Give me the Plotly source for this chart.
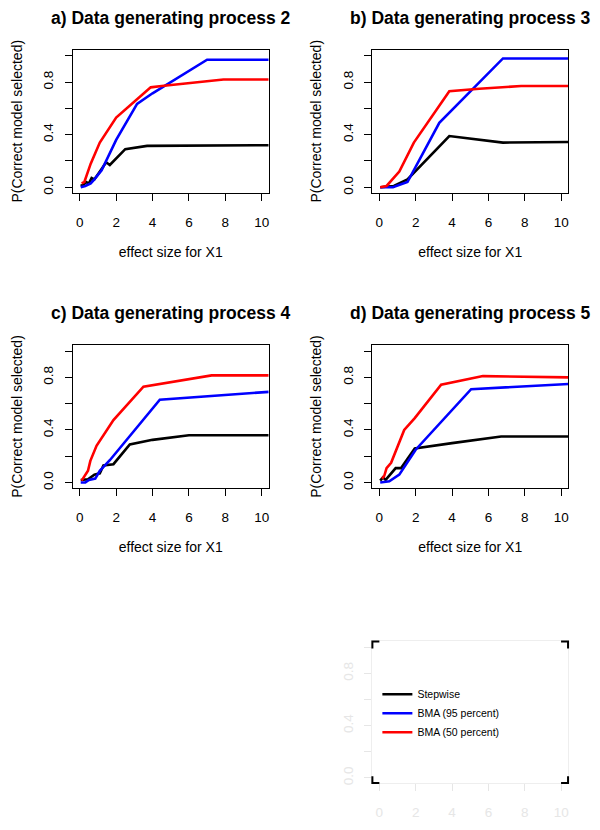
import plotly.graph_objects as go

# ---------------- data ----------------
series_names = ["Stepwise", "BMA (95 percent)", "BMA (50 percent)"]
series_colors = ["#000000", "#0000ff", "#ff0000"]

panel_titles = ["a) Data generating process 2", "b) Data generating process 3",
                "c) Data generating process 4", "d) Data generating process 5"]

# Panel a
a_step_x = [0.05, 0.2, 0.35, 0.5, 0.65, 0.8, 1.0, 1.2, 1.45, 1.65, 2.5, 3.7, 5.0, 7.0, 10.4]
a_step_y = [0.01, 0.02, 0.04, 0.03, 0.07, 0.06, 0.10, 0.14, 0.19, 0.17, 0.29, 0.315, 0.315, 0.315, 0.32]
a_b95_x = [0.05, 0.3, 0.6, 0.8, 1.2, 2.0, 3.15, 4.0, 7.0, 10.4]
a_b95_y = [0.0, 0.01, 0.03, 0.06, 0.13, 0.36, 0.635, 0.715, 0.97, 0.97]
a_b50_x = [0.1, 0.25, 0.6, 1.1, 2.0, 3.9, 4.5, 6.0, 7.9, 10.4]
a_b50_y = [0.03, 0.04, 0.18, 0.34, 0.53, 0.76, 0.77, 0.79, 0.82, 0.82]

# Panel b
b_step_x = [0.05, 0.8, 1.55, 3.85, 6.8, 10.4]
b_step_y = [0.0, 0.01, 0.06, 0.39, 0.34, 0.345]
b_b95_x = [0.05, 0.75, 1.55, 3.3, 6.8, 10.4]
b_b95_y = [0.0, 0.0, 0.04, 0.49, 0.98, 0.98]
b_b50_x = [0.05, 0.4, 1.1, 1.9, 3.85, 5.5, 7.8, 10.4]
b_b50_y = [0.0, 0.01, 0.12, 0.34, 0.73, 0.75, 0.77, 0.77]

# Panel c
c_step_x = [0.05, 0.45, 0.8, 1.1, 1.3, 1.85, 2.75, 4.0, 6.0, 10.4]
c_step_y = [0.02, 0.025, 0.06, 0.07, 0.13, 0.14, 0.29, 0.325, 0.36, 0.36]
c_b95_x = [0.05, 0.3, 0.5, 0.85, 1.1, 1.65, 4.4, 10.4]
c_b95_y = [0.0, 0.0, 0.02, 0.03, 0.09, 0.17, 0.63, 0.69]
c_b50_x = [0.1, 0.27, 0.45, 0.58, 0.92, 1.85, 3.5, 7.25, 10.4]
c_b50_y = [0.015, 0.05, 0.09, 0.165, 0.28, 0.475, 0.73, 0.815, 0.815]

# Panel d
d_step_x = [0.05, 0.2, 0.35, 0.55, 0.9, 1.2, 1.95, 4.0, 6.7, 10.4]
d_step_y = [0.015, 0.04, 0.02, 0.05, 0.11, 0.11, 0.26, 0.30, 0.35, 0.35]
d_b95_x = [0.05, 0.55, 1.1, 2.0, 5.05, 10.4]
d_b95_y = [0.0, 0.01, 0.06, 0.25, 0.71, 0.75]
d_b50_x = [0.15, 0.27, 0.4, 0.65, 1.37, 1.95, 3.4, 5.7, 10.4]
d_b50_y = [0.03, 0.05, 0.11, 0.15, 0.40, 0.49, 0.745, 0.81, 0.80]

panels = [
    [(a_step_x, a_step_y), (a_b95_x, a_b95_y), (a_b50_x, a_b50_y)],
    [(b_step_x, b_step_y), (b_b95_x, b_b95_y), (b_b50_x, b_b50_y)],
    [(c_step_x, c_step_y), (c_b95_x, c_b95_y), (c_b50_x, c_b50_y)],
    [(d_step_x, d_step_y), (d_b95_x, d_b95_y), (d_b50_x, d_b50_y)],
]

x_tickvals = [0, 2, 4, 6, 8, 10]
x_ticktext = ["0", "2", "4", "6", "8", "10"]
y_tickvals = [0.0, 0.2, 0.4, 0.6, 0.8, 1.0]
y_ticktext = ["0.0", "", "0.4", "", "0.8", ""]
x_label = "effect size for X1"
y_label = "P(Correct model selected)"

# ---------------- layout geometry ----------------
# the page body adds an 8px margin, so the figure is drawn 8px smaller
OFF = 8
W, H = 600 - OFF, 830 - OFF
FONT = "Liberation Sans, Arial, Helvetica, sans-serif"
col_px = [(73, 269), (373, 569)]
row_px = [(50, 193), (346, 489), (643, 785)]
xr = [-0.38, 10.38]
yr = [-0.04, 1.045]


def px_x(p):
    return (p - OFF) / W


def px_y(p):
    return 1 - (p - OFF) / H


def xd(c):
    return [px_x(col_px[c][0]), px_x(col_px[c][1])]


def yd(r):
    return [px_y(row_px[r][1]), px_y(row_px[r][0])]


fig = go.Figure()

cells = [(0, 0), (0, 1), (1, 0), (1, 1)]
layout = {}
annotations = []
for i, (r, c) in enumerate(cells):
    n = i + 1
    xa = "x" if n == 1 else f"x{n}"
    ya = "y" if n == 1 else f"y{n}"
    for s, (xs, ys) in enumerate(panels[i]):
        fig.add_trace(go.Scatter(
            x=xs, y=ys, mode="lines", xaxis=xa, yaxis=ya,
            line=dict(color=series_colors[s], width=2.6),
            showlegend=False, hoverinfo="skip"))
    axis_common = dict(showline=True, linecolor="black", linewidth=1.2, mirror=True,
                       ticks="outside", ticklen=7, tickwidth=1, tickcolor="black",
                       showgrid=False, zeroline=False, fixedrange=True,
                       tickfont=dict(family=FONT, size=13.5, color="black"))
    layout[f"xaxis{'' if n == 1 else n}"] = dict(
        domain=xd(c), range=xr, anchor=ya, tickvals=x_tickvals, ticktext=x_ticktext,
        ticklabelstandoff=10,
        title=dict(text=x_label, font=dict(family=FONT, size=14, color="black"), standoff=18),
        **axis_common)
    layout[f"yaxis{'' if n == 1 else n}"] = dict(
        domain=yd(r), range=yr, anchor=xa, tickvals=y_tickvals, ticktext=y_ticktext,
        tickangle=-90, ticklabelstandoff=6,
        title=dict(text=y_label, font=dict(family=FONT, size=14, color="black"), standoff=15),
        **axis_common)
    annotations.append(dict(
        text=f"<b>{panel_titles[i]}</b>", xref="paper", yref="paper",
        x=px_x((col_px[c][0] + col_px[c][1]) / 2),
        y=px_y(row_px[r][0] - 32), xanchor="center", yanchor="middle",
        showarrow=False, font=dict(family=FONT, size=17.5, color="black")))

# ghost panel holding the legend
ghost = "#e6e6e6"
fig.add_trace(go.Scatter(x=[None], y=[None], xaxis="x5", yaxis="y5", mode="lines",
                         showlegend=False, hoverinfo="skip"))
for s in range(3):
    fig.add_trace(go.Scatter(x=[None], y=[None], mode="lines", xaxis="x5", yaxis="y5",
                             name=series_names[s],
                             line=dict(color=series_colors[s], width=2.6)))
ghost_axis = dict(showline=True, linecolor="#eeeeee", linewidth=1.2, mirror=True,
                  ticks="outside", ticklen=7, tickwidth=1, tickcolor=ghost,
                  showgrid=False, zeroline=False, fixedrange=True,
                  tickfont=dict(family=FONT, size=13.5, color=ghost))
layout["xaxis5"] = dict(domain=xd(1), range=xr, anchor="y5", tickvals=x_tickvals,
                        ticktext=x_ticktext, ticklabelstandoff=10, **ghost_axis)
layout["yaxis5"] = dict(domain=yd(2), range=yr, anchor="x5", tickvals=y_tickvals,
                        ticktext=y_ticktext, tickangle=-90, ticklabelstandoff=6, **ghost_axis)

# corner marks of the ghost box
shapes = []
L = 7
x0, x1 = col_px[1]
y0, y1 = row_px[2]
for (cx, cy, dx, dy) in [(x0, y0, 1, 1), (x1, y0, -1, 1), (x0, y1, 1, -1), (x1, y1, -1, -1)]:
    shapes.append(dict(type="path", xref="paper", yref="paper",
                       path=f"M {px_x(cx + dx * L)} {px_y(cy)} L {px_x(cx)} {px_y(cy)} L {px_x(cx)} {px_y(cy + dy * L)}",
                       line=dict(color="black", width=2)))

fig.update_layout(
    width=W, height=H, margin=dict(l=0, r=0, t=0, b=0),
    paper_bgcolor="white", plot_bgcolor="white",
    font=dict(family=FONT, color="black"),
    annotations=annotations, shapes=shapes,
    legend=dict(x=px_x(378), y=px_y(715), xanchor="left", yanchor="middle",
                bgcolor="rgba(0,0,0,0)", font=dict(family=FONT, size=10.5, color="black"),
                tracegroupgap=0, itemwidth=30),
    **layout)

fig.write_html("out.html")
